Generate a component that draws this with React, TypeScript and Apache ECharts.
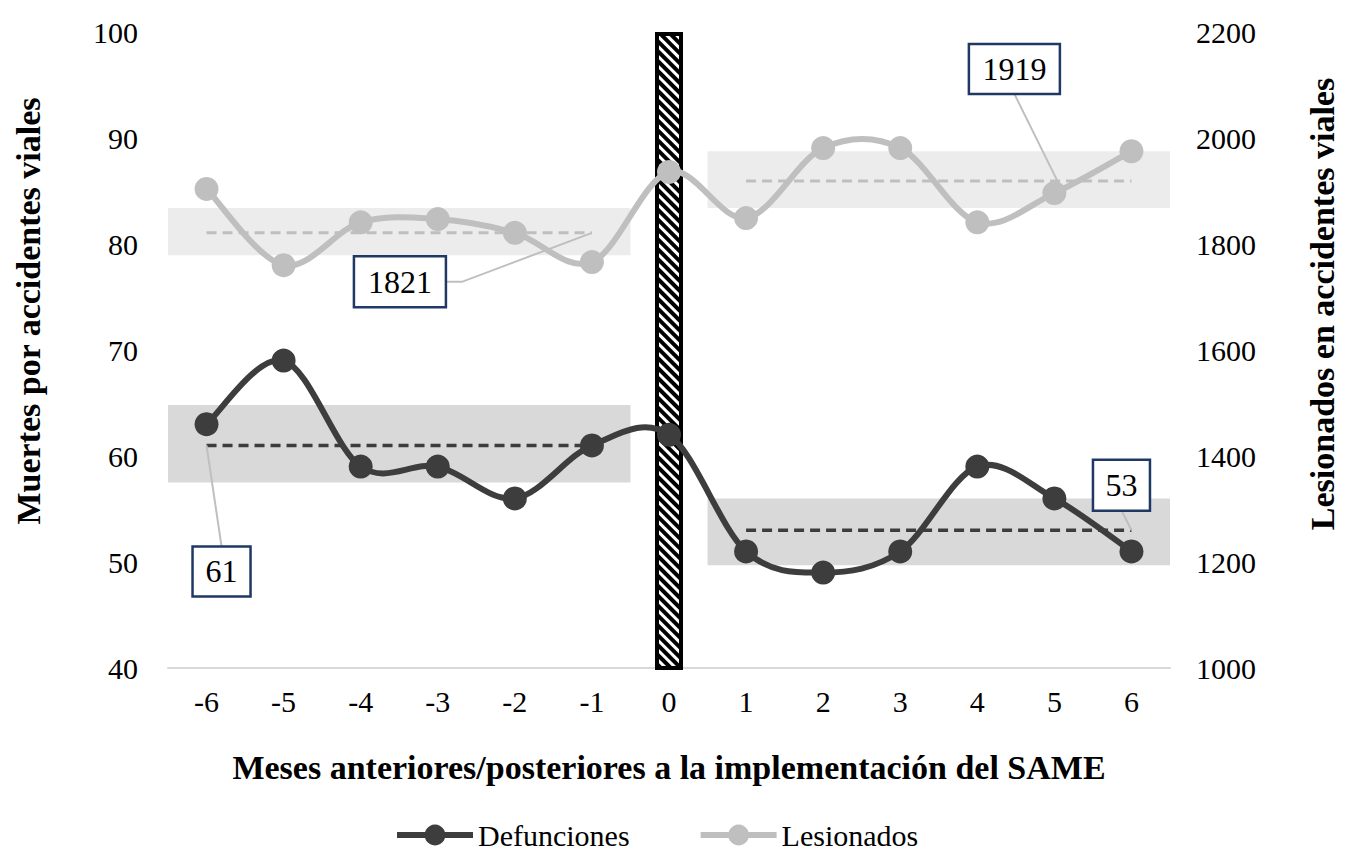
import React, { useEffect, useRef } from "react";
import * as echarts from "echarts";

const months = ["-6", "-5", "-4", "-3", "-2", "-1", "0", "1", "2", "3", "4", "5", "6"];
const defunciones = [63, 69, 59, 59, 56, 61, 62, 51, 49, 51, 59, 56, 51];
const lesionados = [1904, 1760, 1841, 1847, 1821, 1766, 1936, 1849, 1981, 1981, 1841, 1896, 1975];
const defMeanBefore = 61;
const defMeanAfter = 53;
const lesMeanBefore = 1821;
const lesMeanAfter = 1919;
// [startIndex, endIndex, low, high]
const defBands = [[0, 5, 57.5, 64.8], [7, 12, 49.7, 56.0]];
const lesBands = [[0, 5, 1779, 1868], [7, 12, 1868, 1975]];
const implementationMonth = "0";
const leftTicks = { min: 40, max: 100, interval: 10 };
const rightTicks = { min: 1000, max: 2200, interval: 200 };

const FONT = "'Liberation Serif', 'Times New Roman', serif";
const DARK = "#3d3d3d";
const LIGHT = "#bfbfbf";

function meanArray(v: number, from: number, to: number) {
  return months.map((_, i) => (i >= from && i <= to ? v : null));
}

function bandSeries(name: string, data: number[][], yAxisIndex: number, color: string) {
  return {
    name,
    type: "custom",
    yAxisIndex,
    z: 1,
    silent: true,
    encode: { x: [0, 1], y: [2, 3] },
    data,
    renderItem: (params: any, api: any) => {
      const s = api.value(0);
      const e = api.value(1);
      const lo = api.value(2);
      const hi = api.value(3);
      const p1 = api.coord([s, hi]);
      const p2 = api.coord([e, lo]);
      const bw = api.size([1, 0])[0];
      return {
        type: "rect",
        shape: { x: p1[0] - bw / 2, y: p1[1], width: p2[0] - p1[0] + bw, height: p2[1] - p1[1] },
        style: { fill: color },
      };
    },
  };
}

// Excel-like (Catmull-Rom) smoothed curve drawn through the axis scales
function curveSeries(name: string, values: number[], yAxisIndex: number, color: string) {
  return {
    name,
    type: "custom",
    yAxisIndex,
    z: 4,
    silent: true,
    encode: { x: 0, y: 1 },
    data: values.map((v, i) => [i, v]),
    renderItem: (params: any, api: any) => {
      if (params.dataIndex !== 0) return null;
      const pts = values.map((v, i) => api.coord([i, v]));
      let d = `M${pts[0][0]},${pts[0][1]}`;
      for (let i = 0; i < pts.length - 1; i++) {
        const p0 = pts[i - 1] || pts[i];
        const p1 = pts[i];
        const p2 = pts[i + 1];
        const p3 = pts[i + 2] || pts[i + 1];
        const c1 = [p1[0] + (p2[0] - p0[0]) / 6, p1[1] + (p2[1] - p0[1]) / 6];
        const c2 = [p2[0] - (p3[0] - p1[0]) / 6, p2[1] - (p3[1] - p1[1]) / 6];
        d += ` C${c1[0]},${c1[1]} ${c2[0]},${c2[1]} ${p2[0]},${p2[1]}`;
      }
      return {
        type: "path",
        shape: { pathData: d },
        style: { stroke: color, lineWidth: 6, fill: "none", lineCap: "round", lineJoin: "round" },
      };
    },
  };
}

export default function App() {
  const ref = useRef<HTMLDivElement>(null);
  useEffect(() => {
    if (!ref.current) return;
    const chart = echarts.init(ref.current, null, { renderer: "svg" });
    const option: any = {
      animation: false,
      textStyle: { fontFamily: FONT },
      grid: { left: 168, right: 181, top: 32, bottom: 197 },
      legend: {
        data: [
          { name: "Defunciones", lineStyle: { color: DARK, width: 6, opacity: 1 }, itemStyle: { color: DARK } },
          { name: "Lesionados", lineStyle: { color: LIGHT, width: 6, opacity: 1 }, itemStyle: { color: LIGHT } },
        ],
        bottom: 10,
        left: 389,
        itemWidth: 76,
        itemHeight: 26,
        itemGap: 68,
        textStyle: { fontFamily: FONT, fontSize: 30, color: "#000" },
      },
      xAxis: {
        type: "category",
        data: months,
        axisLine: { lineStyle: { color: "#d9d9d9", width: 2 } },
        axisTick: { show: false },
        axisLabel: { fontSize: 30, color: "#000", margin: 18, fontFamily: FONT },
        name: "Meses anteriores/posteriores a la implementación del SAME",
        nameLocation: "middle",
        nameGap: 82,
        nameTextStyle: { fontSize: 34, fontWeight: "bold", color: "#000", fontFamily: FONT },
      },
      yAxis: [
        {
          type: "value",
          ...leftTicks,
          splitLine: { show: false },
          axisLine: { show: false },
          axisTick: { show: false },
          axisLabel: { fontSize: 30, color: "#000", margin: 30, fontFamily: FONT },
        },
        {
          type: "value",
          ...rightTicks,
          splitLine: { show: false },
          axisLine: { show: false },
          axisTick: { show: false },
          axisLabel: {
            fontSize: 30,
            color: "#000",
            margin: 26,
            fontFamily: FONT,
            formatter: (v: number) => String(v),
          },
        },
      ],
      series: [
        bandSeries("bandLes", lesBands, 1, "#edecec"),
        bandSeries("bandDef", defBands, 0, "#d9d9d9"),
        {
          name: "SAME",
          type: "bar",
          yAxisIndex: 0,
          z: 2,
          barWidth: 28,
          data: months.map((m) => (m === implementationMonth ? leftTicks.max : null)),
          itemStyle: {
            color: "#000",
            borderColor: "#000",
            borderWidth: 4,
            decal: {
              symbol: "rect",
              symbolSize: 1,
              color: "#fff",
              dashArrayX: [1, 0],
              dashArrayY: [3, 4],
              rotation: Math.PI / 4,
            },
          },
        },
        {
          name: "mediaLesAntes",
          type: "line",
          yAxisIndex: 1,
          z: 3,
          data: meanArray(lesMeanBefore, 0, 5),
          showSymbol: false,
          symbol: "none",
          lineStyle: { color: LIGHT, width: 3, type: [10, 6] },
        },
        {
          name: "mediaLesDespues",
          type: "line",
          yAxisIndex: 1,
          z: 3,
          data: meanArray(lesMeanAfter, 7, 12),
          showSymbol: false,
          symbol: "none",
          lineStyle: { color: LIGHT, width: 3, type: [10, 6] },
        },
        {
          name: "mediaDefAntes",
          type: "line",
          yAxisIndex: 0,
          z: 3,
          data: meanArray(defMeanBefore, 0, 5),
          showSymbol: false,
          symbol: "none",
          lineStyle: { color: DARK, width: 3.5, type: [10, 6] },
        },
        {
          name: "mediaDefDespues",
          type: "line",
          yAxisIndex: 0,
          z: 3,
          data: meanArray(defMeanAfter, 7, 12),
          showSymbol: false,
          symbol: "none",
          lineStyle: { color: DARK, width: 3.5, type: [10, 6] },
        },
        curveSeries("curvaLesionados", lesionados, 1, LIGHT),
        curveSeries("curvaDefunciones", defunciones, 0, DARK),
        {
          name: "Lesionados",
          type: "line",
          yAxisIndex: 1,
          z: 5,
          data: lesionados,
          symbol: "circle",
          symbolSize: 24,
          itemStyle: { color: LIGHT },
          lineStyle: { color: LIGHT, width: 6, opacity: 0 },
        },
        {
          name: "Defunciones",
          type: "line",
          yAxisIndex: 0,
          z: 5,
          data: defunciones,
          symbol: "circle",
          symbolSize: 24,
          itemStyle: { color: DARK },
          lineStyle: { color: DARK, width: 6, opacity: 0 },
        },
      ],
    };
    chart.setOption(option);

    const px = (i: number, v: number, yAxisIndex: number) =>
      chart.convertToPixel({ xAxisIndex: 0, yAxisIndex } as any, [i, v]) as number[];

    const callout = (
      text: string,
      anchor: number[],
      dx: number,
      dy: number,
      w: number,
      h: number,
      leader: number[][]
    ) => {
      const cx = anchor[0] + dx;
      const cy = anchor[1] + dy;
      return [
        {
          type: "polyline",
          z: 50,
          shape: { points: leader },
          style: { stroke: LIGHT, lineWidth: 2, fill: "none" },
        },
        {
          type: "rect",
          z: 51,
          shape: { x: cx - w / 2, y: cy - h / 2, width: w, height: h },
          style: { fill: "#fff", stroke: "#1f3864", lineWidth: 2.5 },
        },
        {
          type: "text",
          z: 52,
          x: cx,
          y: cy,
          style: {
            text,
            fill: "#000",
            font: `32px ${FONT}`,
            align: "center",
            verticalAlign: "middle",
          },
        },
      ];
    };

    const aLesB = px(5, lesMeanBefore, 1);
    const aLesA = px(11, lesMeanAfter, 1);
    const aDefB = px(0, defMeanBefore, 0);
    const aDefA = px(12, defMeanAfter, 0);

    const b1 = [aLesB[0] - 192, aLesB[1] + 49];
    const b2 = [aLesA[0] - 40, aLesA[1] - 112];
    const b3 = [aDefB[0] + 15, aDefB[1] + 126];
    const b4 = [aDefA[0] - 10, aDefA[1] - 45];

    const elements: any[] = [
      ...callout(String(lesMeanBefore), aLesB, -192, 49, 92, 51, [
        [b1[0] + 46, b1[1]],
        [b1[0] + 62, b1[1]],
        aLesB,
      ]),
      ...callout(String(lesMeanAfter), aLesA, -40, -112, 91, 50, [
        [b2[0], b2[1] + 25],
        [aLesA[0] + 3, aLesA[1]],
      ]),
      ...callout(String(defMeanBefore), aDefB, 15, 126, 58, 50, [
        [b3[0], b3[1] - 25],
        aDefB,
      ]),
      ...callout(String(defMeanAfter), aDefA, -10, -45, 57, 51, [
        [b4[0], b4[1] + 25],
        aDefA,
      ]),
      {
        type: "text",
        x: 28,
        y: 311,
        rotation: Math.PI / 2,
        style: {
          text: "Muertes por accidentes viales",
          fill: "#000",
          font: `bold 34px ${FONT}`,
          align: "center",
          verticalAlign: "middle",
        },
      },
      {
        type: "text",
        x: 1322,
        y: 304,
        rotation: Math.PI / 2,
        style: {
          text: "Lesionados en accidentes viales",
          fill: "#000",
          font: `bold 34px ${FONT}`,
          align: "center",
          verticalAlign: "middle",
        },
      },
    ];
    chart.setOption({ graphic: { elements } });

    return () => chart.dispose();
  }, []);
  return (
    <div
      ref={ref}
      style={{ position: "fixed", left: 0, top: 0, width: 1351, height: 865, background: "#fff" }}
    />
  );
}
